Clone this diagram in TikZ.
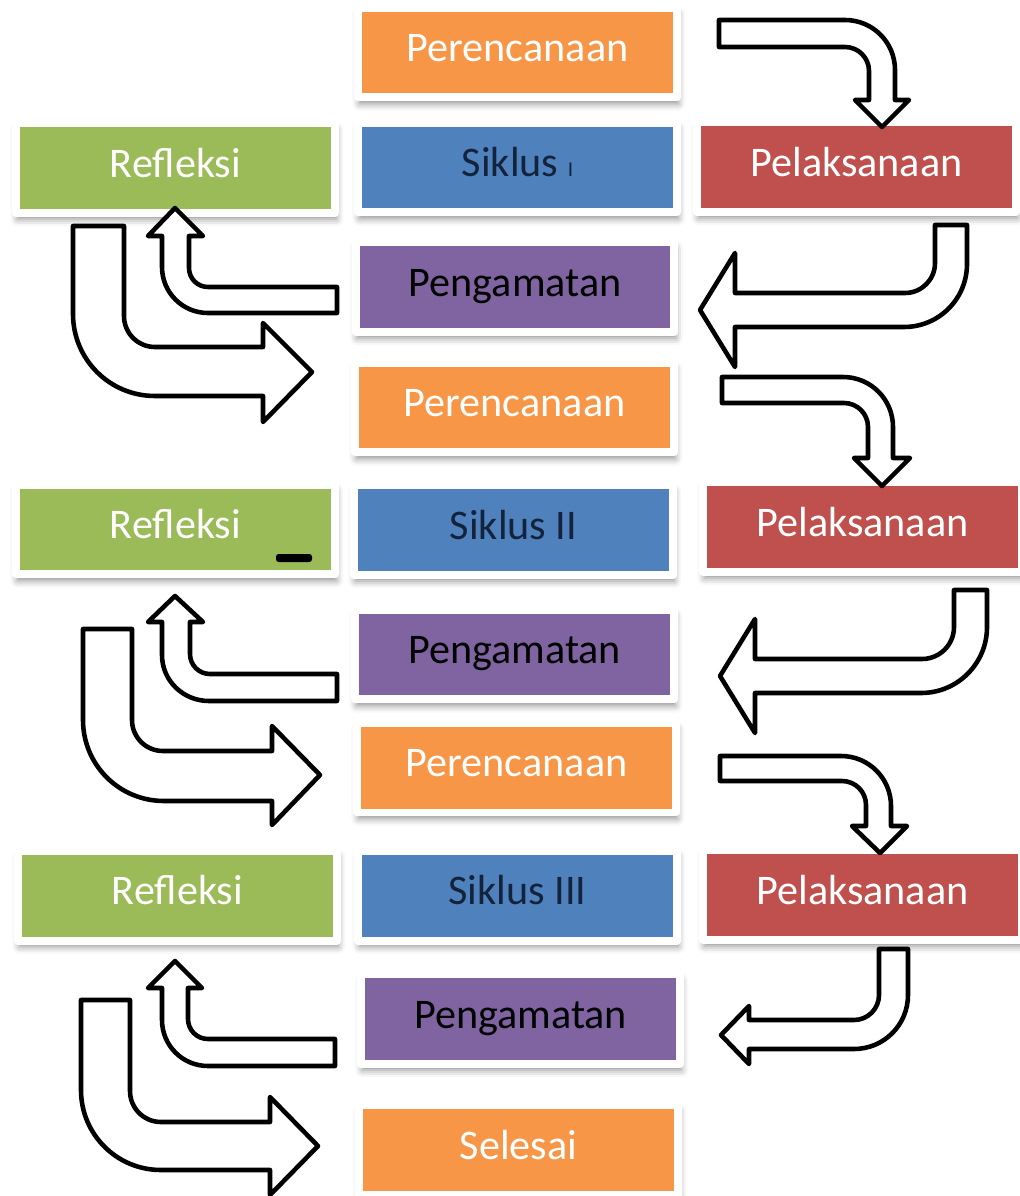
\documentclass[tikz,border=0pt]{standalone}
\usepackage{fontspec}
\setmainfont{Carlito}
\usetikzlibrary{shadows.blur}
\definecolor{planorange}{HTML}{F79646}
\definecolor{cycleblue}{HTML}{4F81BD}
\definecolor{actred}{HTML}{C0504D}
\definecolor{reflectgreen}{HTML}{9BBB59}
\definecolor{observepurple}{HTML}{8064A2}
\definecolor{cycletext}{HTML}{14233C}
\tikzset{
    stage/.style={draw=white, line width=0.16cm, line join=round, inner sep=0pt,
        minimum width=6.38cm, minimum height=1.8cm, text height=16pt, text depth=5.2pt,
        font=\fontsize{24}{28}\selectfont,
        blur shadow={shadow xshift=0.8pt, shadow yshift=-3.5pt, shadow blur radius=4pt, shadow opacity=45}},
    plan/.style={stage, fill=planorange, text=white},
    cycle/.style={stage, fill=cycleblue, text=cycletext},
    act/.style={stage, fill=actred, text=white},
    reflect/.style={stage, fill=reflectgreen, text=white},
    observe/.style={stage, fill=observepurple, text=black},
    blockarrow/.style={draw=black, fill=white, line width=2.6pt, line join=round}
}
\begin{document}
\begin{tikzpicture}[x=0.02cm, y=-0.02cm]
    \useasboundingbox (0,0) rectangle (1019,1196) ;

    \node [plan] (per1) at (517.5,52.5) {Perencanaan} ;
    \node [reflect] (ref1) at (175.5,168) {Refleksi} ;
    \node [cycle] (sik1) at (517.5,167.5) {Siklus {\fontsize{12}{12}\selectfont I}} ;
    \node [act] (pel1) at (856.5,167) {Pelaksanaan} ;
    \node [observe] (peng1) at (515,287) {Pengamatan} ;

    \node [plan] (per2) at (514.5,407.5) {Perencanaan} ;
    \node [reflect] (ref2) at (175.5,529.5) {Refleksi} ;
    \node [cycle] (sik2) at (513.5,530) {Siklus II} ;
    \node [act] (pel2) at (862.5,527) {Pelaksanaan} ;
    \node [observe] (peng2) at (514.5,654.5) {Pengamatan} ;

    \node [plan] (per3) at (516.5,767.5) {Perencanaan} ;
    \node [reflect] (ref3) at (177.5,895.5) {Refleksi} ;
    \node [cycle] (sik3) at (517.5,895.5) {Siklus III} ;
    \node [act] (pel3) at (862.5,895) {Pelaksanaan} ;
    \node [observe] (peng3) at (520.5,1019) {Pengamatan} ;

    \node [plan] (done) at (518.5,1150) {Selesai} ;

    \fill [rounded corners=1.5pt] (276,554) rectangle (312,562) ;

    \draw [blockarrow] (719,20) -- (845,20) to[out=0,in=90] (895,70) -- (895,100) -- (909,100) -- (882,127)
        -- (855,100) -- (869,100) -- (869,71) to[out=90,in=0] (845,47) -- (719,47) -- cycle ;
    \draw [blockarrow] (722,377) -- (843,377) to[out=0,in=90] (893,427) -- (893,458) -- (910,458) -- (882,486)
        -- (854,458) -- (868,458) -- (868,427) to[out=90,in=0] (844,403) -- (722,403) -- cycle ;
    \draw [blockarrow] (720,756) -- (841,756) to[out=0,in=90] (891,806) -- (891,826) -- (907,826) -- (880,853)
        -- (852,826) -- (866,826) -- (866,805) to[out=90,in=0] (842,781) -- (720,781) -- cycle ;

    \draw [blockarrow] (935,225) -- (967,225) -- (967,264) to[out=270,in=0] (904,327) -- (735,327) -- (735,367)
        -- (700,310) -- (735,253) -- (735,293) -- (905,293) to[out=0,in=270] (935,263) -- cycle ;
    \draw [blockarrow] (954,590) -- (987,590) -- (987,627) to[out=270,in=0] (921,693) -- (755,693) -- (755,733)
        -- (720,676) -- (755,619) -- (755,659) -- (922,659) to[out=0,in=270] (954,627) -- cycle ;
    \draw [blockarrow] (879,949) -- (908,949) -- (908,995) to[out=270,in=0] (854,1049) -- (749,1049) -- (749,1064)
        -- (721,1035) -- (749,1006) -- (749,1020) -- (854,1020) to[out=0,in=270] (879,995) -- cycle ;

    \draw [blockarrow] (337,287) -- (208,287) to[out=180,in=270] (189,268) -- (189,236) -- (203,236) -- (175,208)
        -- (148,236) -- (162,236) -- (162,267) to[out=270,in=180] (208,313) -- (337,313) -- cycle ;
    \draw [blockarrow] (337,674) -- (210,674) to[out=180,in=270] (190,654) -- (190,622) -- (203,622) -- (175,596)
        -- (148,622) -- (162,622) -- (162,655) to[out=270,in=180] (209,701) -- (337,701) -- cycle ;
    \draw [blockarrow] (335,1039) -- (208,1039) to[out=180,in=270] (188,1019) -- (188,988) -- (202,988) -- (175,961)
        -- (148,988) -- (162,988) -- (162,1020) to[out=270,in=180] (208,1066) -- (335,1066) -- cycle ;

    \draw [blockarrow] (73,226) -- (124,226) -- (124,316) to[out=270,in=180] (155,347) -- (263,347) -- (263,323)
        -- (312,372) -- (263,422) -- (263,396) -- (155,396) to[out=180,in=270] (73,314) -- cycle ;
    \draw [blockarrow] (83,629) -- (132,629) -- (132,720) to[out=270,in=180] (163,751) -- (272,751) -- (272,726)
        -- (320,775) -- (272,825) -- (272,801) -- (164,801) to[out=180,in=270] (83,720) -- cycle ;
    \draw [blockarrow] (81,1000) -- (130,1000) -- (130,1091) to[out=270,in=180] (161,1122) -- (270,1122) -- (270,1097)
        -- (318,1146) -- (270,1195) -- (270,1170) -- (161,1170) to[out=180,in=270] (81,1090) -- cycle ;
\end{tikzpicture}
\end{document}
